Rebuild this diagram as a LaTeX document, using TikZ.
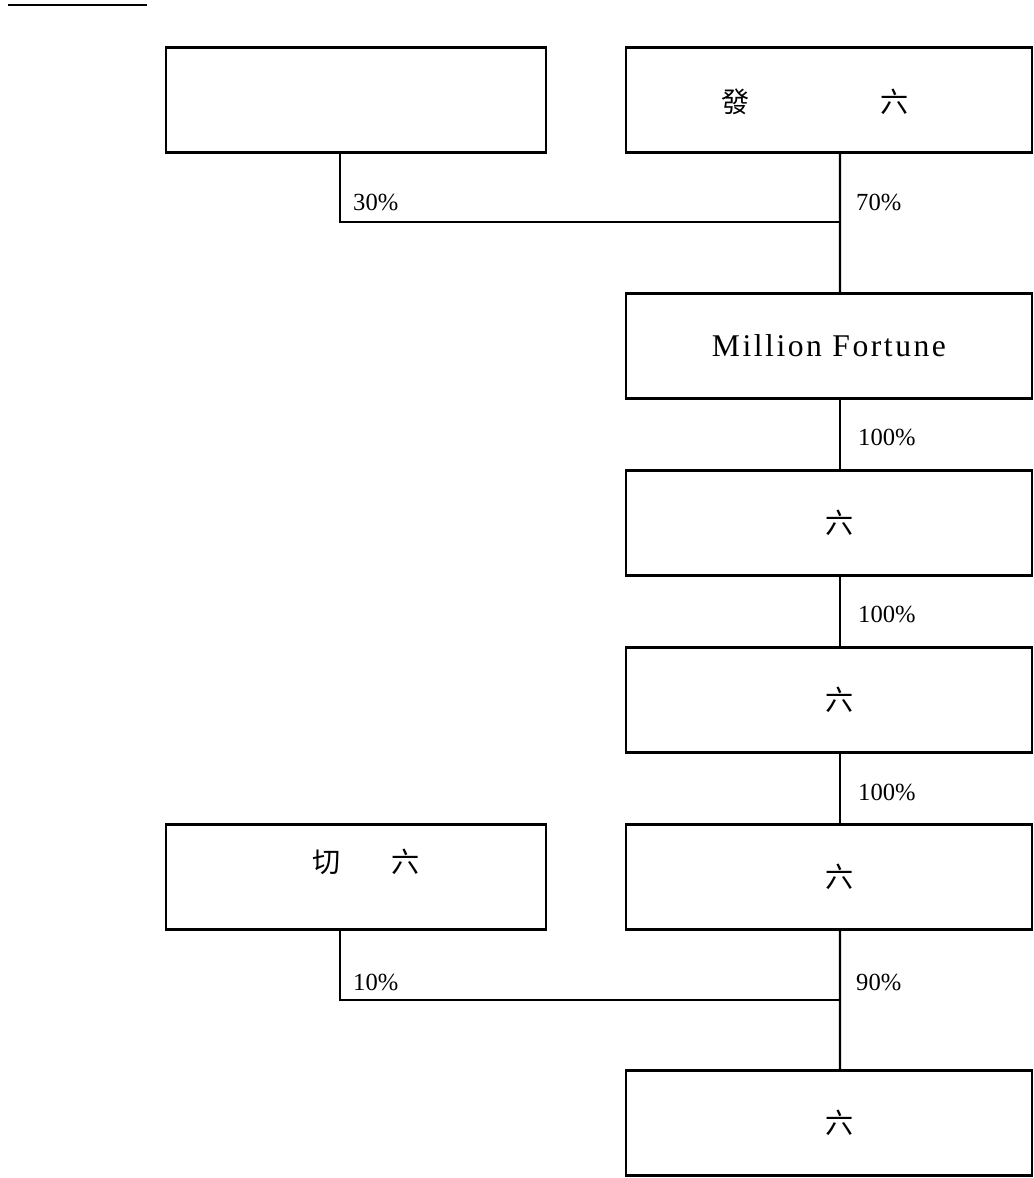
\documentclass[tikz,border=0pt]{standalone}
\usepackage{fontspec}
\setmainfont{Liberation Serif}
\newfontfamily\cjk{Noto Sans CJK TC}
\usepackage{tikz}
\usetikzlibrary{positioning, calc}

\begin{document}
\begin{tikzpicture}[x=0.02cm, y=-0.02cm, line width=1.4pt,
    entity/.style={draw, line width=1.5pt, minimum height=2.1cm, inner sep=0pt, font=\cjk\fontsize{16}{18}\selectfont},
    leftbox/.style={entity, minimum width=7.6cm},
    rightbox/.style={entity, minimum width=8.12cm},
    pct/.style={anchor=west, inner sep=0pt, font=\fontsize{14}{16}\selectfont}]
  \useasboundingbox (0,0) rectangle (1034,1178);
  % Rule at top
  \draw[line width=1.5pt] (8,5) -- (147,5);
  % Top shareholders
  \node[leftbox] (tl) at (356,100) {};
  \node[rightbox] (tr) at (829,100) {};
  \node[font=\cjk\fontsize{16}{18}\selectfont, inner sep=0pt] (trtext) at (815,102) {發\hspace{2.62cm}六};
  % Chain of companies
  \node[rightbox, font=\fontsize{18}{20}\selectfont\addfontfeatures{LetterSpace=8}] (mf) at (829,346) {Million Fortune};
  \node[rightbox] (c1) at (829,523) {\hspace{0.44cm}六};
  \node[rightbox] (c2) at (829,700) {\hspace{0.44cm}六};
  \node[rightbox] (c3) at (829,877) {\hspace{0.44cm}六};
  \node[leftbox] (bl) at (356,877) {};
  \node[font=\cjk\fontsize{16}{18}\selectfont, inner sep=0pt] (bltext) at (366,862) {切\hspace{1.02cm}六};
  \node[rightbox] (c4) at (829,1123) {\hspace{0.44cm}六};
  % Joints
  \coordinate (j1) at (840,222);
  \coordinate (j2) at (840,1000);
  % Connectors
  \draw ([xshift=-0.32cm]tl.south) |- (j1);
  \draw ([xshift=0.22cm]tr.south) -- (j1) -- ([xshift=0.22cm]mf.north);
  \draw ([xshift=0.22cm]mf.south) -- ([xshift=0.22cm]c1.north);
  \draw ([xshift=0.22cm]c1.south) -- ([xshift=0.22cm]c2.north);
  \draw ([xshift=0.22cm]c2.south) -- ([xshift=0.22cm]c3.north);
  \draw ([xshift=-0.32cm]bl.south) |- (j2);
  \draw ([xshift=0.22cm]c3.south) -- (j2) -- ([xshift=0.22cm]c4.north);
  % Percentages
  \node[pct] (p30) at (352,202) {30\%};
  \node[pct] (p70) at (855,202) {70\%};
  \node[pct] (p1) at (857,437) {100\%};
  \node[pct] (p2) at (857,614) {100\%};
  \node[pct] (p3) at (857,792) {100\%};
  \node[pct] (p10) at (352,982) {10\%};
  \node[pct] (p90) at (855,982) {90\%};
\end{tikzpicture}
\end{document}
